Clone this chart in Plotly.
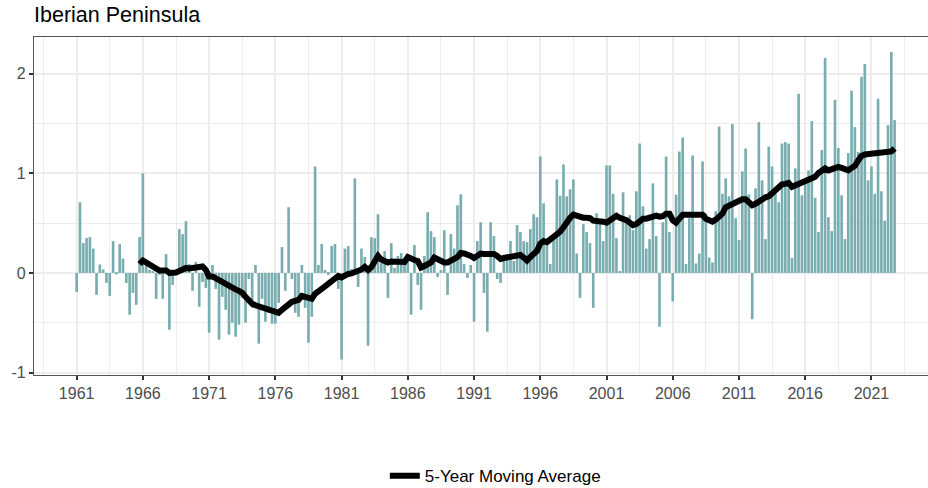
import plotly.graph_objects as go

first_year = 1961
tick_years = list(range(1961, 2022, 5))
minor_years = [y - 2.5 for y in range(1961, 2027, 5)]

# quarterly anomalies, four values per year, 1961 onwards
anomaly = [
    -0.19, 0.71, 0.30, 0.35, 0.36, 0.245, -0.22, 0.085, 0.035, -0.10, -0.23, 0.32,
    -0.015, 0.29, 0.145, -0.10, -0.42, -0.20, -0.32, 0.36, 1.00, 0.12, 0.03, 0.02,
    -0.26, -0.02, -0.26, 0.19, -0.57, -0.12, 0.02, 0.44, 0.39, 0.52, 0.09, -0.18,
    0.11, -0.34, -0.09, -0.15, -0.60, 0.08, -0.16, -0.67, -0.24, -0.37, -0.62, -0.50,
    -0.64, -0.52, -0.25, -0.50, -0.06, -0.35, 0.08, -0.71, -0.26, -0.49, -0.40, -0.51,
    -0.51, -0.30, 0.26, -0.18, 0.66, -0.06, -0.40, -0.44, 0.08, -0.35, -0.70, -0.44,
    1.07, 0.08, 0.29, 0.03, -0.02, 0.27, 0.29, -0.16, -0.87, 0.245, 0.27, 0.04,
    0.95, -0.14, 0.245, 0.16, -0.73, 0.36, 0.35, 0.59, 0.10, 0.22, -0.25, 0.30,
    0.05, 0.17, 0.20, 0.13, 0.16, -0.42, 0.28, -0.12, -0.37, 0.17, 0.61, 0.42,
    0.36, -0.04, 0.03, 0.43, -0.22, 0.39, 0.245, 0.68, 0.79, 0.09, -0.05, 0.08,
    -0.49, 0.32, 0.51, -0.20, -0.59, 0.51, 0.37, -0.06, -0.10, 0.12, 0.19, 0.32,
    0.12, 0.48, 0.41, 0.32, 0.31, 0.44, 0.59, 0.56, 1.17, 0.70, 0.28, 0.09,
    0.35, 0.94, 0.775, 1.09, 0.77, 0.84, 0.94, 0.195, -0.25, 0.49, 0.41, 0.30,
    -0.35, 0.60, 0.52, 0.32, 1.08, 1.08, 0.795, 0.35, 0.01, 0.81, 0.52, 0.58,
    0.43, 0.82, 1.30, 0.67, 0.245, 0.34, 0.90, 0.37, -0.54, 0.51, 1.17, 0.41,
    -0.285, 0.785, 1.22, 1.36, 0.09, 0.55, 1.18, 0.095, 0.195, 1.12, 0.60, 0.155,
    0.105, 0.62, 1.47, 0.795, 0.95, 0.77, 1.495, 0.55, 0.33, 1.02, 1.25, 0.79,
    -0.465, 0.85, 1.515, 0.93, 0.34, 1.27, 1.07, 0.83, 0.71, 1.30, 1.315, 1.30,
    0.15, 1.05, 1.80, 0.78, 0.93, 1.03, 1.525, 0.755, 0.41, 1.235, 2.16, 0.56,
    0.42, 1.74, 1.255, 0.78, 0.34, 1.205, 1.83, 1.465, 1.215, 1.97, 2.10, 0.93,
    1.07, 0.795, 1.75, 0.82, 0.525, 1.485, 2.22, 1.535,
]

# moving average, starts at the last quarter of 1965
moving_avg = [
    0.09, 0.125, 0.105, 0.085, 0.06, 0.035, 0.025, 0.025, 0.025, 0.0, -0.005, 0.005,
    0.02, 0.04, 0.05, 0.045, 0.05, 0.065, 0.065, 0.065, 0.03, -0.035, -0.035, -0.055,
    -0.08, -0.085, -0.105, -0.13, -0.15, -0.165, -0.18, -0.20, -0.24, -0.28, -0.31, -0.325,
    -0.335, -0.34, -0.36, -0.37, -0.38, -0.39, -0.40, -0.37, -0.34, -0.31, -0.29, -0.28,
    -0.27, -0.23, -0.24, -0.255, -0.26, -0.21, -0.175, -0.16, -0.135, -0.105, -0.075, -0.045,
    -0.03, -0.045, -0.025, -0.01, -0.005, 0.005, 0.015, 0.035, 0.06, 0.03, 0.06, 0.11,
    0.17, 0.135, 0.125, 0.105, 0.115, 0.11, 0.11, 0.105, 0.11, 0.16, 0.14, 0.13,
    0.12, 0.055, 0.07, 0.085, 0.105, 0.155, 0.135, 0.12, 0.105, 0.105, 0.115, 0.14,
    0.16, 0.20, 0.195, 0.19, 0.17, 0.15, 0.18, 0.195, 0.19, 0.19, 0.20, 0.19,
    0.17, 0.14, 0.15, 0.155, 0.155, 0.17, 0.17, 0.18, 0.155, 0.125, 0.16, 0.19,
    0.22, 0.295, 0.32, 0.31, 0.335, 0.37, 0.39, 0.415, 0.46, 0.515, 0.555, 0.585,
    0.57, 0.555, 0.555, 0.555, 0.55, 0.525, 0.525, 0.525, 0.515, 0.505, 0.53, 0.565,
    0.575, 0.555, 0.545, 0.53, 0.505, 0.48, 0.49, 0.52, 0.545, 0.545, 0.555, 0.575,
    0.575, 0.565, 0.57, 0.595, 0.595, 0.53, 0.505, 0.545, 0.585, 0.585, 0.585, 0.60,
    0.585, 0.585, 0.585, 0.545, 0.525, 0.515, 0.535, 0.56, 0.595, 0.66, 0.675, 0.69,
    0.70, 0.73, 0.74, 0.74, 0.705, 0.68, 0.695, 0.72, 0.75, 0.76, 0.77, 0.80,
    0.84, 0.88, 0.89, 0.895, 0.905, 0.865, 0.88, 0.90, 0.92, 0.935, 0.945, 0.95,
    0.965, 1.005, 1.03, 1.05, 1.03, 1.04, 1.065, 1.065, 1.055, 1.035, 1.03, 1.055,
    1.075, 1.13, 1.175, 1.19, 1.195, 1.20, 1.19, 1.20, 1.20, 1.21, 1.22, 1.22,
    1.25,
]

quarters = [first_year + i / 4 for i in range(len(anomaly))]
print(len(anomaly), len(moving_avg))

fig = go.Figure()
fig.add_trace(go.Bar(x=quarters, y=anomaly, width=0.2, marker_color="#7AADB0",
                     marker_line_width=0, showlegend=False))
fig.add_trace(go.Scatter(x=quarters[-len(moving_avg):], y=moving_avg, mode="lines",
                         line=dict(color="black", width=6), name="5-Year Moving Average"))

grid = "#EDEDED"
fig.update_xaxes(range=[1957.78, 2025.27], tickvals=tick_years, ticktext=[str(y) for y in tick_years],
                 showgrid=True, gridcolor=grid, gridwidth=1.5, zeroline=False,
                 minor=dict(tickvals=minor_years, showgrid=True, gridcolor=grid, gridwidth=1, ticks=""),
                 ticks="outside", ticklen=4, tickwidth=1.5, tickcolor="#333333",
                 showline=True, linecolor="#555555", linewidth=1.2, mirror=True,
                 tickfont=dict(size=16, color="#4D4D4D"))
fig.update_yaxes(range=[-1.025, 2.37], tickvals=[-1, 0, 1, 2], ticktext=["-1", "0", "1", "2"],
                 showgrid=True, gridcolor=grid, gridwidth=1.5, zeroline=False,
                 minor=dict(tickvals=[-0.5, 0.5, 1.5], showgrid=True, gridcolor=grid, gridwidth=1, ticks=""),
                 ticks="outside", ticklen=4, tickwidth=1.5, tickcolor="#333333",
                 showline=True, linecolor="#555555", linewidth=1.2, mirror=True,
                 tickfont=dict(size=16, color="#4D4D4D"))
fig.update_layout(
    width=928, height=488,
    font=dict(family="Liberation Sans"),
    title=dict(text="Iberian Peninsula", x=34 / 928, xanchor="left", y=0.97, yanchor="middle",
               font=dict(size=21.5, color="black")),
    plot_bgcolor="white", paper_bgcolor="white",
    margin=dict(l=34, r=0, t=37, b=113),
    legend=dict(orientation="h", x=0.516, xanchor="center", yref="container", y=0.0243, yanchor="middle",
                font=dict(size=17, color="black"), itemwidth=30),
)
# drop the browser's default page margin so the figure sits at 0,0
fig.write_html("out.html", config={"displayModeBar": False},
               post_script="document.body.style.margin='0';")
